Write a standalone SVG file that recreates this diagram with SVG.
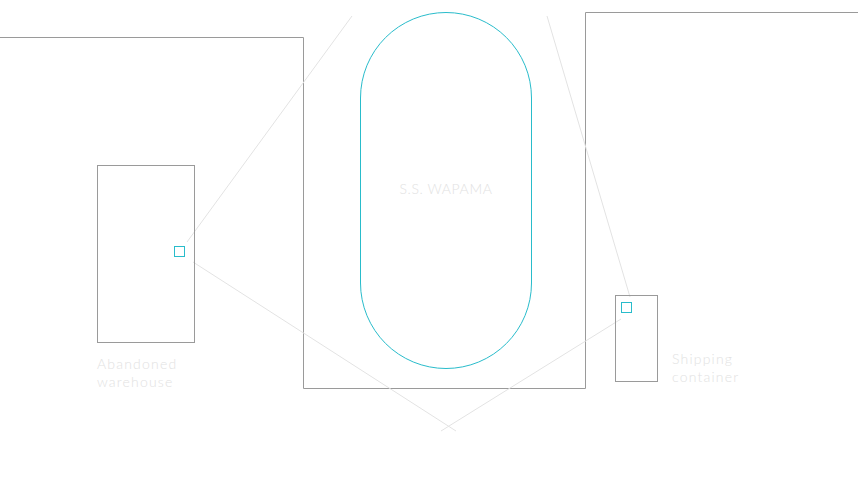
<svg xmlns="http://www.w3.org/2000/svg" width="858" height="481" viewBox="0 0 858 481">
<style>
.wall{fill:none;stroke:#9a9a9a;stroke-width:1}
.cyan{fill:none;stroke:#29bccb;stroke-width:1}
.link{fill:none;stroke:#e3e3e3;stroke-width:1}
.lbl{font-family:Lato,"Open Sans",sans-serif;font-weight:300;font-size:14px;fill:#e2e2e2;letter-spacing:1.2px}
.ship{letter-spacing:0.6px}
</style>
<rect width="858" height="481" fill="#fff"/>
<g id="site">
<path class="wall" d="M0 37.5H303.5V388.5H585.5V12.5H858"/>
</g>
<g id="connectors">
<line class="link" x1="352" y1="16" x2="187" y2="242"/>
<line class="link" x1="193" y1="262" x2="456" y2="431"/>
<line class="link" x1="621" y1="319" x2="441" y2="431"/>
<line class="link" x1="547" y1="16" x2="630" y2="297"/>
</g>
<g id="ship">
<rect class="cyan" x="360.5" y="12.5" width="171" height="356" rx="85.5" ry="85.5"/>
<text class="lbl ship" x="446" y="194" text-anchor="middle">S.S. WAPAMA</text>
</g>
<g id="warehouse">
<rect class="wall" x="97.5" y="165.5" width="97" height="177"/>
<rect class="cyan" x="174.5" y="246.5" width="10" height="10"/>
<text class="lbl" x="97" y="369">Abandoned</text>
<text class="lbl" x="97" y="387">warehouse</text>
</g>
<g id="container">
<rect class="wall" x="615.5" y="295.5" width="42" height="86"/>
<rect class="cyan" x="621.5" y="302.5" width="10" height="10"/>
<text class="lbl" x="672" y="364">Shipping</text>
<text class="lbl" x="672" y="382">container</text>
</g>
</svg>
